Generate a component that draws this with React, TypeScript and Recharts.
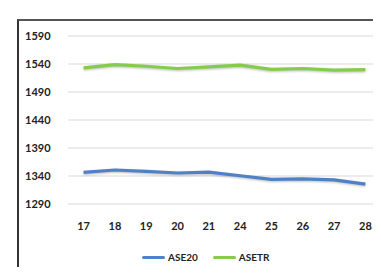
import React from "react";
import { LineChart, Line, XAxis, YAxis, CartesianGrid } from "recharts";

const days = ["17", "18", "19", "20", "21", "24", "25", "26", "27", "28"];
const ase20 = [1346.6, 1350.7, 1348.4, 1345.4, 1347, 1340.5, 1334, 1335, 1333, 1325.5];
const asetr = [1533, 1538.8, 1536, 1532, 1535, 1538, 1530.5, 1532, 1529, 1530];
const yTicks = [1290, 1340, 1390, 1440, 1490, 1540, 1590];

const chartData = days.map((d, i) => ({ day: d, ASE20: ase20[i], ASETR: asetr[i] }));

const FONT = "Lato, 'Open Sans', sans-serif";
const BLUE = "#4f81c7";
const GREEN = "#86cc4c";

function YTick(props: any) {
  const { y, payload } = props;
  return (
    <text x={25} y={y} dy={4} textAnchor="start" fontFamily={FONT} fontWeight={700} fontSize={11} fill="#222">
      {payload.value}
    </text>
  );
}

export default function App() {
  const items = [
    { name: "ASE20", color: BLUE },
    { name: "ASETR", color: GREEN },
  ];
  return (
    <div style={{ position: "relative", width: 381, height: 275, margin: -8, overflow: "hidden", background: "#fff" }}>
      <div style={{ position: "absolute", left: 0, top: 0 }}>
        <LineChart width={381} height={275} data={chartData} margin={{ top: 36, right: 0, bottom: 41, left: 0 }}>
          <CartesianGrid vertical={false} stroke="#d9d9d9" />
          <XAxis
            dataKey="day"
            axisLine={false}
            tickLine={false}
            interval={0}
            padding={{ left: 15.6, right: 15.6 }}
            tick={{ fontFamily: FONT, fontWeight: 700, fontSize: 11, fill: "#222" }}
            tickMargin={12}
            height={30}
          />
          <YAxis
            width={68}
            domain={[1290, 1590]}
            ticks={yTicks}
            axisLine={false}
            tickLine={false}
            tick={<YTick />}
          />
          <Line
            type="linear"
            dataKey="ASE20"
            stroke={BLUE}
            strokeWidth={3.2}
            dot={false}
            isAnimationActive={false}
            style={{ filter: "drop-shadow(0 1px 1px rgba(0,0,0,0.25))" }}
          />
          <Line
            type="linear"
            dataKey="ASETR"
            stroke={GREEN}
            strokeWidth={3.2}
            dot={false}
            isAnimationActive={false}
            style={{ filter: "drop-shadow(0 1px 1px rgba(0,0,0,0.25))" }}
          />
        </LineChart>
      </div>
      <div style={{ position: "absolute", top: -2, left: 22, lineHeight: "10px", whiteSpace: "nowrap", fontFamily: FONT, fontWeight: 700, fontSize: 10, color: "#333" }}>
        ASE20 and ASETR KLEISIMO ANA HMERA APO 17/5 TO 28/5/2021
      </div>
      <div
        style={{
          position: "absolute",
          left: 17,
          top: 19,
          width: 380,
          height: 270,
          borderTop: "2px solid #555",
          borderLeft: "2px solid #333",
          boxSizing: "border-box",
          pointerEvents: "none",
        }}
      />
      <div
        style={{
          position: "absolute",
          top: 251,
          left: 142,
          display: "flex",
          gap: 15,
          fontFamily: FONT,
          fontWeight: 700,
          fontSize: 10,
          color: "#222",
        }}
      >
        {items.map((it) => (
          <div key={it.name} style={{ display: "flex", alignItems: "center", gap: 3 }}>
            <span style={{ display: "inline-block", width: 23, height: 3, borderRadius: 2, background: it.color }} />
            <span>{it.name}</span>
          </div>
        ))}
      </div>
    </div>
  );
}
